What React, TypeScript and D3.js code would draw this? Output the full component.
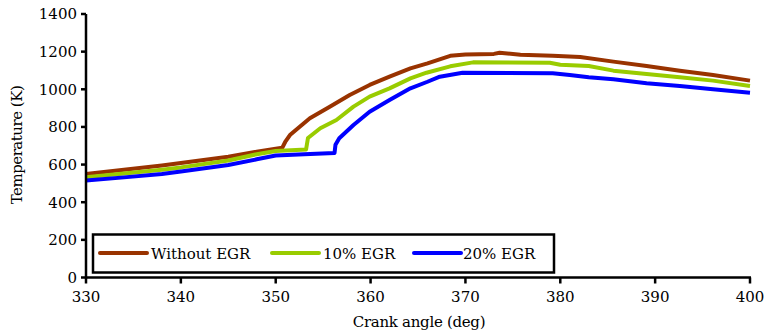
import React from "react";
import * as d3 from "d3";

const W = 767;
const H = 335;

const xTicks = [330, 340, 350, 360, 370, 380, 390, 400];
const yTicks = [0, 200, 400, 600, 800, 1000, 1200, 1400];

const seriesNames = ["Without EGR", "10% EGR", "20% EGR"];
const seriesColors = ["#993300", "#99CC00", "#0000FF"];

const angleNoEgr = [330, 334, 338, 340, 345, 348, 350, 350.7, 351.0, 351.5, 352.5, 353.6, 355.7, 357.8, 359.9, 362.0, 364.2, 366, 368.4, 370, 373, 373.6, 375.8, 379.2, 382.1, 385.6, 389.1, 392.6, 396.1, 400];
const tempNoEgr = [550, 572, 595, 608, 642, 668, 684, 690, 720, 757, 800, 846, 907, 970, 1023, 1067, 1111, 1138, 1178, 1185, 1188, 1194, 1184, 1178, 1172, 1147, 1124, 1099, 1076, 1046];

const angle10 = [330, 334, 338, 340, 345, 348, 350, 353.2, 353.4, 354.7, 356.4, 358.2, 359.9, 362, 364.2, 365.9, 368.4, 370.8, 378.9, 380, 383, 385.6, 389.1, 392.6, 396.1, 400];
const temp10 = [533, 553, 573, 585, 622, 655, 672, 680, 741, 793, 837, 908, 961, 1005, 1058, 1088, 1122, 1143, 1141, 1130, 1124, 1099, 1081, 1064, 1046, 1018];

const angle20 = [330, 334, 338, 340, 345, 348, 350, 353, 356.2, 356.3, 356.7, 358.2, 359.9, 362, 364.2, 366, 367.3, 369.7, 379.2, 381, 383, 385.6, 389.1, 392.6, 396.1, 400];
const temp20 = [515, 532, 550, 563, 598, 628, 648, 655, 662, 705, 740, 810, 881, 943, 1005, 1040, 1067, 1088, 1085, 1076, 1064, 1053, 1032, 1018, 1000, 982];

const seriesAngles = [angleNoEgr, angle10, angle20];
const seriesTemps = [tempNoEgr, temp10, temp20];

const FONT = '"DejaVu Serif", serif';

export default function App() {
  const x = d3.scaleLinear().domain([330, 400]).range([86, 750]);
  const y = d3.scaleLinear().domain([0, 1400]).range([277.5, 14]);

  const line = d3
    .line<[number, number]>()
    .x((d) => x(d[0]))
    .y((d) => y(d[1]))
    .curve(d3.curveLinear);

  const legendItems = [
    { lx1: 100, lx2: 147, tx: 151 },
    { lx1: 272, lx2: 319, tx: 323 },
    { lx1: 414, lx2: 461, tx: 463 },
  ];

  const txt = (ls: number) => ({ fontFamily: FONT, fontSize: "15px", letterSpacing: `${ls}px` });

  return (
    <div style={{ position: "absolute", left: 0, top: 0 }}>
      <svg width={W} height={H} viewBox={`0 0 ${W} ${H}`} style={{ display: "block", background: "#fff" }}>
        <rect x={0} y={0} width={W} height={H} fill="#fff" />
        {seriesAngles.map((angles, i) => {
          const pts: [number, number][] = angles.map((a, j) => [a, seriesTemps[i][j]]);
          return (
            <path
              key={i}
              d={line(pts) || ""}
              fill="none"
              stroke={seriesColors[i]}
              strokeWidth={4}
              strokeLinejoin="round"
            />
          );
        })}
        {/* axes */}
        <line x1={x(330)} x2={x(330)} y1={y(1400)} y2={y(0) + 1} stroke="#000" strokeWidth={2.5} />
        <line x1={x(330) - 1} x2={x(400) + 1} y1={y(0)} y2={y(0)} stroke="#000" strokeWidth={2.5} />
        {yTicks.map((t) => (
          <g key={"y" + t}>
            <line x1={x(330) - 5} x2={x(330)} y1={y(t)} y2={y(t)} stroke="#000" strokeWidth={2.5} />
            <text x={77} y={y(t)} dy="0.36em" textAnchor="end" style={txt(0)} fill="#000">
              {t}
            </text>
          </g>
        ))}
        {xTicks.map((t) => (
          <g key={"x" + t}>
            <line x1={x(t)} x2={x(t)} y1={y(0)} y2={y(0) + 6} stroke="#000" strokeWidth={2.5} />
            <text x={x(t)} y={302} textAnchor="middle" style={txt(0)} fill="#000">
              {t}
            </text>
          </g>
        ))}
        <text x={419} y={327} textAnchor="middle" style={txt(-0.3)} fill="#000">
          Crank angle (deg)
        </text>
        <text transform={`translate(22, 145) rotate(-90)`} textAnchor="middle" style={txt(-0.5)} fill="#000">
          Temperature (K)
        </text>
        {/* legend */}
        <rect x={93} y={234.5} width={461} height={38} fill="#fff" stroke="#000" strokeWidth={2.5} />
        {legendItems.map((it, i) => (
          <g key={"lg" + i}>
            <line x1={it.lx1} x2={it.lx2} y1={253} y2={253} stroke={seriesColors[i]} strokeWidth={4} strokeLinecap="round" />
            <text x={it.tx} y={258.5} style={txt(0)} fill="#000">
              {seriesNames[i]}
            </text>
          </g>
        ))}
      </svg>
    </div>
  );
}
